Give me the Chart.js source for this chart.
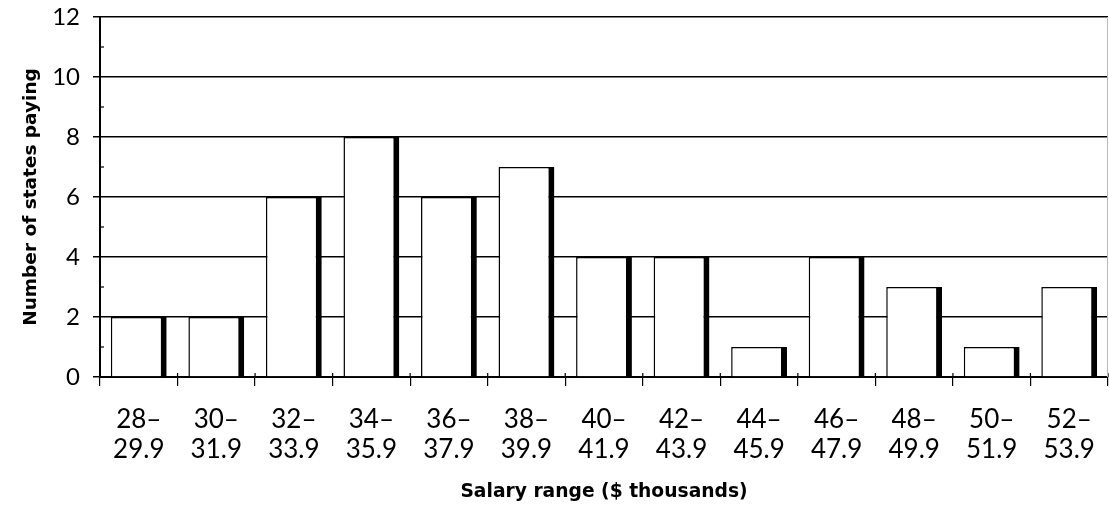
<!DOCTYPE html>
<html>
<head>
<meta charset="utf-8">
<script src="https://cdn.jsdelivr.net/npm/chart.js@4/dist/chart.umd.min.js"></script>
<style>
html,body{margin:0;padding:0;background:#fff;}
#wrap{width:1109px;height:511px;position:relative;}
</style>
</head>
<body>
<div id="wrap"><canvas id="c" width="1109" height="511"></canvas></div>
<script>
const rangeStarts = ['28–','30–','32–','34–','36–','38–','40–','42–','44–','46–','48–','50–','52–'];
const rangeEnds = ['29.9','31.9','33.9','35.9','37.9','39.9','41.9','43.9','45.9','47.9','49.9','51.9','53.9'];
const statesPaying = [2, 2, 6, 8, 6, 7, 4, 4, 1, 4, 3, 1, 3];
const yMin = 0, yMax = 12, yStep = 2;
const xTitle = 'Salary range ($ thousands)';
const yTitle = 'Number of states paying';

const labels = rangeStarts.map((s, i) => [s, rangeEnds[i]]);

const extraTicks = {
  id: 'extraTicks',
  afterDraw(chart) {
    const ctx = chart.ctx;
    const ca = chart.chartArea;
    const x = chart.scales.x, y = chart.scales.y;
    ctx.save();
    ctx.strokeStyle = '#000';
    ctx.lineWidth = 1.2;
    const n = labels.length;
    for (let i = 0; i <= n; i++) {
      const px = x.getPixelForValue(i - 0.5);
      ctx.beginPath();
      ctx.moveTo(px, ca.bottom - 4);
      ctx.lineTo(px, ca.bottom);
      ctx.stroke();
    }
    for (let v = yMin + 1; v < yMax; v += yStep) {
      const py = y.getPixelForValue(v);
      ctx.beginPath();
      ctx.moveTo(ca.left, py);
      ctx.lineTo(ca.left + 4, py);
      ctx.stroke();
    }
    ctx.strokeStyle = '#bbb';
    ctx.lineWidth = 1;
    ctx.beginPath();
    ctx.moveTo(ca.right - 0.5, ca.top);
    ctx.lineTo(ca.right - 0.5, ca.bottom);
    ctx.stroke();
    ctx.restore();
  }
};

new Chart(document.getElementById('c'), {
  type: 'bar',
  data: {
    labels: labels,
    datasets: [{
      data: statesPaying,
      backgroundColor: '#fff',
      borderColor: '#000',
      borderWidth: {top: 1.5, left: 1.5, right: 6, bottom: 0},
      borderSkipped: false,
      barPercentage: 0.72,
      categoryPercentage: 1.0
    }]
  },
  options: {
    responsive: false,
    animation: false,
    devicePixelRatio: 1,
    layout: {padding: {top: 17, right: 1, left: 0, bottom: 0}},
    plugins: {legend: {display: false}, tooltip: {enabled: false}},
    scales: {
      x: {
        offset: true,
        grid: {display: true, offset: true, drawOnChartArea: false, drawTicks: true, tickLength: 9, color: '#000', lineWidth: 1.2},
        border: {display: true, color: '#000', width: 2},
        ticks: {color: '#000', font: {family: 'Lato', size: 26, lineHeight: 1.15}, padding: 19, maxRotation: 0, autoSkip: false},
        title: {display: true, text: xTitle, color: '#000', font: {family: 'DejaVu Sans', size: 18.7, weight: 'bold', lineHeight: 1.2}, padding: {top: 0, bottom: 8}},
        afterFit(scale) { scale.height = 134; scale.paddingLeft = 0; scale.paddingRight = 0; }
      },
      y: {
        min: yMin, max: yMax,
        grid: {
          color: ctx => (ctx.tick && ctx.tick.value % yStep === 0) ? '#000' : 'rgba(0,0,0,0)',
          lineWidth: 1.5,
          tickLength: 7,
          drawTicks: true
        },
        border: {display: true, color: '#000', width: 2},
        ticks: {stepSize: yStep, color: '#000', font: {family: 'Lato', size: 24}, padding: 13},
        title: {display: true, text: yTitle, color: '#000', font: {family: 'DejaVu Sans', size: 18.5, weight: 'bold', lineHeight: 1.2}, padding: {top: 20, bottom: 0}},
        afterFit(scale) { scale.width = 100; scale.paddingTop = 0; scale.paddingBottom = 0; }
      }
    }
  },
  plugins: [extraTicks]
});
</script>
</body>
</html>
